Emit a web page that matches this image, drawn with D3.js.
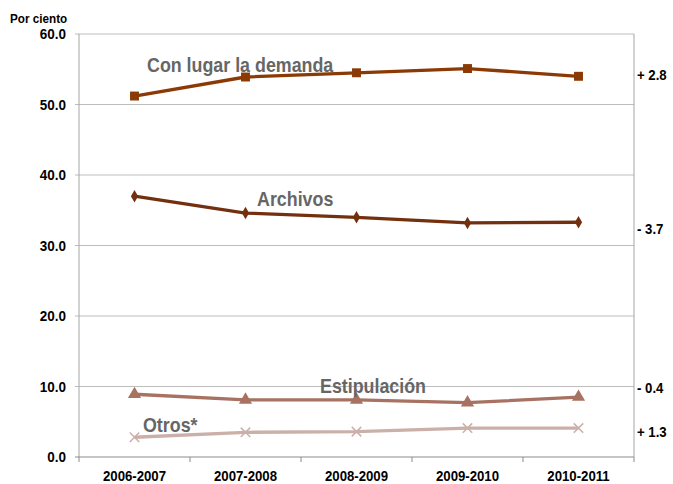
<!DOCTYPE html>
<html>
<head>
<meta charset="utf-8">
<script src="https://cdn.jsdelivr.net/npm/d3@7"></script>
<style>
  body { margin: 0; background: #fff; }
  svg { font-family: "Liberation Sans", Arial, sans-serif; font-weight: bold; }
</style>
</head>
<body>
<div id="chart"></div>
<script>
let width = 673,
    height = 484;

const years = ["2006-2007", "2007-2008", "2008-2009", "2009-2010", "2010-2011"];
const conLugar = [51.2, 53.9, 54.5, 55.1, 54.0];
const archivos = [37.0, 34.6, 34.0, 33.2, 33.3];
const estipulacion = [8.9, 8.1, 8.1, 7.7, 8.5];
const otros = [2.8, 3.5, 3.6, 4.1, 4.1];
const cambios = ["+ 2.8", "- 3.7", "- 0.4", "+ 1.3"];
const yTicks = [0, 10, 20, 30, 40, 50, 60];

const margin = {top: 34, right: 39, bottom: 27, left: 79};

const x = d3.scaleBand().domain(years).range([margin.left, width - margin.right]);
const y = d3.scaleLinear().domain([0, 60]).range([height - margin.bottom, margin.top]);

// label = name position, changeY = baseline of the change note on the right
const series = [
  {name: "Con lugar la demanda", values: conLugar, color: "#8b3a05", marker: "square", label: [147, 72], change: cambios[0], changeY: 80},
  {name: "Archivos", values: archivos, color: "#73300f", marker: "diamond", label: [257, 206], change: cambios[1], changeY: 234},
  {name: "Estipulación", values: estipulacion, color: "#a87262", marker: "triangle", label: [320, 393], change: cambios[2], changeY: 393},
  {name: "Otros*", values: otros, color: "#cbb0aa", marker: "cross", label: [143, 432], change: cambios[3], changeY: 437}
];

const svg = d3.select("#chart").append("svg")
  .attr("width", width)
  .attr("height", height);

// narrow-looking bold text: squeeze horizontally
function label(sel, tx, ty, txt, size, k, anchor) {
  return sel.append("text")
    .attr("transform", "translate(" + tx + "," + ty + ") scale(" + k + ",1)")
    .attr("text-anchor", anchor || "start")
    .style("font-size", size + "px")
    .text(txt);
}

// gridlines
svg.append("g").selectAll("line")
  .data(yTicks.filter(d => d > 0))
  .enter().append("line")
  .attr("x1", margin.left - 4).attr("x2", width - margin.right)
  .attr("y1", d => y(d)).attr("y2", d => y(d))
  .style("stroke", "#bdbdbd").style("stroke-width", 1);

// left / right frame
svg.append("line")
  .attr("x1", margin.left).attr("x2", margin.left)
  .attr("y1", y(60)).attr("y2", y(0))
  .style("stroke", "#a6a6a6");
svg.append("line")
  .attr("x1", width - margin.right).attr("x2", width - margin.right)
  .attr("y1", y(60)).attr("y2", y(0))
  .style("stroke", "#a6a6a6");

// bottom axis
const xAxis = svg.append("g")
  .attr("transform", "translate(0," + y(0) + ")");
xAxis.append("line")
  .attr("x1", margin.left - 4).attr("x2", width - margin.right)
  .style("stroke", "#8c8c8c").style("stroke-width", 1.2);
const bounds = years.map(d => x(d)).concat([width - margin.right]);
xAxis.selectAll(".tk").data(bounds).enter().append("line")
  .attr("x1", d => d).attr("x2", d => d)
  .attr("y1", 0).attr("y2", 5)
  .style("stroke", "#8c8c8c");
years.forEach((d) => {
  label(xAxis, x(d) + x.bandwidth() / 2, 24, d, 15, 0.88, "middle");
});

// y labels
const yAxis = svg.append("g");
yTicks.forEach((d) => {
  label(yAxis, 66, y(d) + 5, d.toFixed(1), 15, 0.9, "end");
});

label(svg, 10, 23, "Por ciento", 13, 0.9);

const line = d3.line()
  .x((d, i) => x(years[i]) + x.bandwidth() / 2)
  .y(d => y(d));

const symbolType = {
  square: d3.symbolSquare,
  diamond: d3.symbolDiamond,
  triangle: d3.symbolTriangle,
  cross: d3.symbolX
};
const symbolSize = {square: 80, diamond: 45, triangle: 75, cross: 60};

series.forEach((s) => {
  const g = svg.append("g");
  g.append("path")
    .attr("d", line(s.values))
    .style("fill", "none")
    .style("stroke", s.color)
    .style("stroke-width", 3.3);
  g.selectAll("path.m").data(s.values).enter().append("path")
    .attr("class", "m")
    .attr("transform", (d, i) => "translate(" + (x(years[i]) + x.bandwidth() / 2) + "," + y(d) + ")")
    .attr("d", d3.symbol().type(symbolType[s.marker]).size(symbolSize[s.marker]))
    .style("fill", s.marker === "cross" ? "none" : s.color)
    .style("stroke", s.color)
    .style("stroke-width", s.marker === "cross" ? 1.5 : 0);
  label(g, s.label[0], s.label[1], s.name, 21, 0.85).style("fill", "#666666");
  label(g, width - margin.right + 3, s.changeY, s.change, 15, 0.88);
});
</script>
</body>
</html>
